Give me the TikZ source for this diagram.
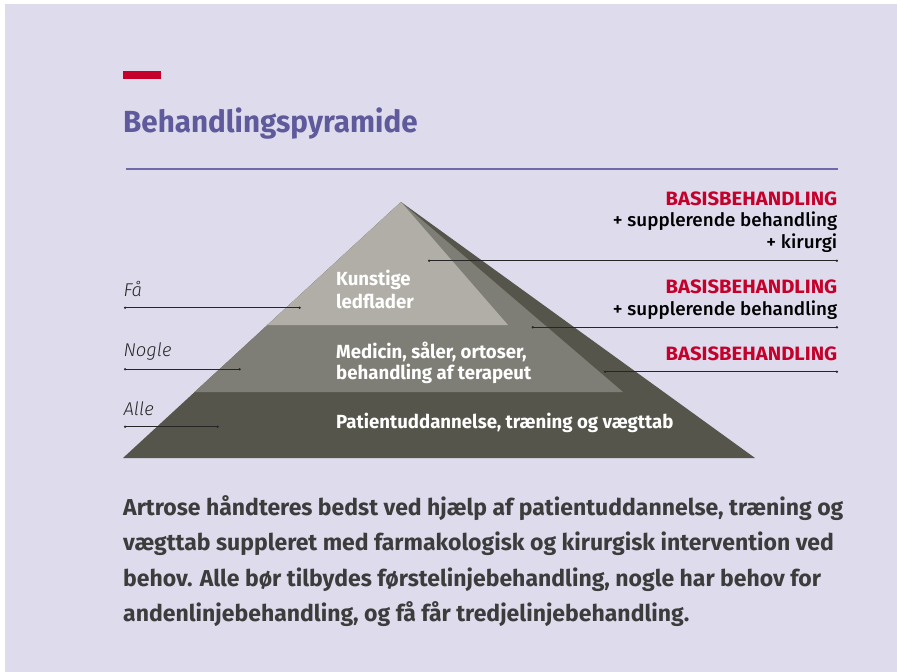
\documentclass[tikz,border=0pt]{standalone}
\usepackage{fontspec}
\usetikzlibrary{calc,arrows.meta}
\setmainfont{Fira Sans}
\newfontfamily\labfont{Fira Sans Light}
\newfontfamily\titlefont{Fira Sans}[FakeStretch=0.97]
\newfontfamily\innerfont{Fira Sans}[FakeStretch=0.98]
\newfontfamily\medfont{Fira Sans Medium}[FakeStretch=1.02]
\newfontfamily\capsfont{Fira Sans}[FakeStretch=1.05]
\definecolor{bg}{HTML}{DEDBEC}
\definecolor{plight}{HTML}{B0AEA7}
\definecolor{pmid}{HTML}{7F7E76}
\definecolor{pdark}{HTML}{55554B}
\definecolor{titlec}{HTML}{5E5A9C}
\definecolor{rulec}{HTML}{6E69A8}
\definecolor{redc}{HTML}{C4002B}
\definecolor{parac}{HTML}{3C3C3C}
\tikzset{
  leader/.style={draw=black!85, line width=0.9pt, {Circle[length=2.2pt]}-{Circle[length=2.2pt]}},
  inner/.style={inner sep=0pt, text=white, font=\innerfont\bfseries\fontsize{19}{21}\selectfont},
  rtext/.style={inner sep=0pt, anchor=base east, text=black, font=\medfont\fontsize{18.5}{21}\selectfont},
  rred/.style={inner sep=0pt, anchor=base east, text=redc, font=\capsfont\bfseries\fontsize{19.3}{21}\selectfont},
  ltext/.style={inner sep=0pt, anchor=base west, text=black!85, font=\labfont\itshape\fontsize{18.5}{21}\selectfont},
  para/.style={inner sep=0pt, anchor=base west, text=parac, font=\bfseries\fontsize{23}{26}\selectfont},
}
\begin{document}
\begin{tikzpicture}[x=1pt,y=-1pt]
\useasboundingbox (0,0) rectangle (897,672);
\fill[white] (0,0) rectangle (897,672);
\fill[bg] (5,4) rectangle (897,672);
% header
\fill[redc] (123,71) rectangle (161,78.5);
\node[inner sep=0pt, anchor=base west, text=titlec, font=\titlefont\bfseries\fontsize{30.5}{34}\selectfont] (title) at (123,132.7) {Behandlingspyramide};
\coordinate (ruleL) at (126,169);
\coordinate (ruleR) at (838,169);
\draw[rulec, line width=1.2pt] (ruleL) -- (ruleR);
% pyramid
\coordinate (apex) at (401,202);
\coordinate (bl) at (123,458);
\coordinate (br) at (755,458);
\fill[pdark] (apex) -- (bl) -- (br) -- cycle;
\fill[pmid] (apex) -- ($(apex)!0.7422!(bl)$) -- (623,392) -- cycle;
\fill[plight] (apex) -- ($(apex)!0.4805!(bl)$) -- (508,325) -- cycle;
% inner texts
\node[inner, anchor=base west] (k1) at (336,285) {Kunstige};
\node[inner, anchor=base west] (k2) at (336,308.3) {ledflader};
\node[inner, anchor=base west] (m1) at (336,358.3) {Medicin, såler, ortoser,};
\node[inner, anchor=base west] (m2) at (336,379.6) {behandling af terapeut};
\node[inner, anchor=base west] (p1) at (336,428.3) {Patientuddannelse, træning og vægttab};
% left labels
\node[ltext] (fa) at (123.3,296) {Få};
\node[ltext] (nogle) at (123.3,356.7) {Nogle};
\node[ltext] (alle) at (123.3,415) {Alle};
\coordinate (faL) at (124,307.7); \coordinate (faR) at (300.7,307.7);
\coordinate (noL) at (124,369.3); \coordinate (noR) at (240.7,369.3);
\coordinate (alL) at (124,426.7); \coordinate (alR) at (218.7,426.7);
\draw[leader] (faL) -- (faR);
\draw[leader] (noL) -- (noR);
\draw[leader] (alL) -- (alR);
% right labels
\node[rred] (b1) at (837.5,205) {BASISBEHANDLING};
\node[rtext] (s1) at (837.5,226.7) {+ supplerende behandling};
\node[rtext] (c1) at (837.5,248) {+ kirurgi};
\node[rred] (b2) at (837.5,293.3) {BASISBEHANDLING};
\node[rtext] (s2) at (837.5,315) {+ supplerende behandling};
\node[rred] (b3) at (837.5,360) {BASISBEHANDLING};
\coordinate (r1L) at (428,260.7); \coordinate (r1R) at (838,260.7);
\coordinate (r2L) at (531.7,327.3); \coordinate (r2R) at (838,327.3);
\coordinate (r3L) at (604,371.7); \coordinate (r3R) at (838,371.7);
\draw[leader] (r1L) -- (r1R);
\draw[leader] (r2L) -- (r2R);
\draw[leader] (r3L) -- (r3R);
% paragraph
\node[para] (t1) at (123,515) {Artrose håndteres bedst ved hjælp af patientuddannelse, træning og};
\node[para] (t2) at (123,550.5) {vægttab suppleret med farmakologisk og kirurgisk intervention ved};
\node[para] (t3) at (123,586) {behov. Alle bør tilbydes førstelinjebehandling, nogle har behov for};
\node[para] (t4) at (123,621.5) {andenlinjebehandling, og få får tredjelinjebehandling.};
\end{tikzpicture}
\end{document}
